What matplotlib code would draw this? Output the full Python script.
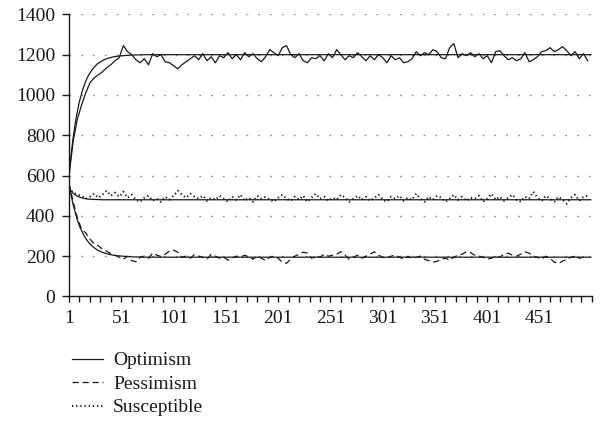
import numpy as np
import matplotlib.pyplot as plt

plt.rcParams['font.family'] = ['Liberation Serif', 'DejaVu Serif']

# --- simulated series, read every 4 steps (x = 1, 5, 9, ..., 497) ---
optimism = [600, 770, 880, 950, 1010, 1060, 1085, 1100, 1115, 1135, 1150, 1170, 1185,
            1245, 1215, 1200, 1175, 1160, 1180, 1150, 1205, 1190, 1200, 1165, 1160,
            1145, 1130, 1150, 1165, 1180, 1195, 1175, 1205, 1170, 1190, 1160, 1195,
            1185, 1210, 1180, 1200, 1175, 1210, 1190, 1205, 1180, 1165, 1190, 1225,
            1210, 1195, 1235, 1245, 1200, 1185, 1205, 1170, 1160, 1185, 1180, 1195,
            1170, 1205, 1185, 1225, 1200, 1175, 1195, 1185, 1210, 1190, 1170, 1195,
            1175, 1200, 1185, 1160, 1195, 1175, 1185, 1160, 1165, 1180, 1215, 1195,
            1210, 1200, 1225, 1215, 1185, 1180, 1235, 1255, 1185, 1205, 1195, 1210,
            1190, 1205, 1180, 1195, 1160, 1215, 1220, 1195, 1175, 1185, 1170, 1180,
            1210, 1165, 1175, 1190, 1215, 1220, 1235, 1215, 1225, 1240, 1220, 1195,
            1215, 1180, 1205, 1170]
pessimism = [560, 470, 390, 335, 315, 285, 262, 252, 235, 225, 212, 205, 195,
             185, 200, 178, 172, 195, 200, 190, 215, 205, 198, 210, 225,
             230, 220, 195, 200, 190, 208, 200, 195, 185, 210, 200, 190,
             195, 180, 192, 200, 195, 205, 195, 185, 200, 190, 178, 195,
             200, 190, 170, 165, 185, 200, 210, 220, 215, 190, 200, 195,
             210, 200, 205, 210, 222, 205, 185, 195, 205, 190, 200, 210,
             222, 205, 195, 190, 200, 205, 195, 185, 200, 190, 195, 200,
             185, 178, 170, 175, 185, 190, 180, 195, 205, 210, 222, 218,
             205, 200, 195, 185, 190, 200, 195, 210, 215, 205, 200, 210,
             222, 215, 200, 195, 185, 200, 190, 170, 165, 175, 185, 195,
             200, 190, 195, 200]
susceptible = [540, 515, 505, 500, 485, 495, 510, 490, 505, 525, 500, 515, 495,
               520, 490, 505, 480, 470, 490, 500, 475, 485, 470, 495, 480,
               500, 525, 505, 490, 510, 495, 485, 500, 475, 490, 480, 500,
               485, 470, 495, 480, 505, 475, 490, 470, 500, 485, 495, 480,
               470, 490, 505, 485, 475, 495, 480, 500, 470, 490, 510, 485,
               495, 475, 490, 480, 505, 490, 470, 485, 500, 480, 495, 475,
               490, 505, 480, 470, 495, 485, 500, 475, 490, 480, 510, 485,
               470, 495, 480, 500, 490, 470, 485, 505, 480, 495, 475, 490,
               485, 500, 470, 485, 510, 480, 495, 475, 490, 505, 480, 470,
               495, 485, 520, 490, 475, 500, 485, 470, 495, 480, 460, 490,
               505, 475, 495, 500]

# --- model (smooth) curves, read at selected steps ---
model_steps = [1, 3, 5, 7, 9, 11, 14, 17, 20, 24, 28, 33, 38, 44, 50, 60, 75, 100, 500]
optimism_model = [600, 704, 790, 860, 919, 968, 1025, 1069, 1101, 1132, 1154, 1171,
                  1182, 1190, 1194, 1198, 1200, 1200, 1200]
pessimism_model = [560, 504, 455, 416, 379, 350, 316, 288, 267, 246, 231, 219,
                   211, 204, 201, 197, 195, 195, 195]
susceptible_model = [540, 524, 513, 504, 498, 493, 488, 485, 483, 482, 481, 480,
                     480, 480, 480, 480, 480, 480, 480]

x_labels = ['1', '51', '101', '151', '201', '251', '301', '351', '401', '451']

ink = '#1a1a1a'

fig = plt.figure(figsize=(6.01, 4.36), dpi=100)
ax = fig.add_axes([0.1148, 0.320, 0.870, 0.647])

# dotted horizontal grid
for yv in range(200, 1401, 200):
    ax.axhline(yv, color='#8a8a8a', lw=1.0, linestyle=(0, (1.2, 7.3)), zorder=0)

def steps_for(series):
    return np.arange(len(series)) * 4 + 1

ax.plot(steps_for(optimism), optimism, color=ink, lw=0.9, label='Optimism')
ax.plot(steps_for(pessimism), pessimism, color=ink, lw=0.9,
        linestyle=(0, (5, 3)), label='Pessimism')
ax.plot(steps_for(susceptible), susceptible, color=ink, lw=1.5,
        linestyle=(0, (0.6, 1.4)), label='Susceptible')

for model in (optimism_model, pessimism_model, susceptible_model):
    ax.plot(model_steps, model, color=ink, lw=0.9)

ax.set_xlim(1, 501)
ax.set_ylim(0, 1400)

ax.set_yticks(range(0, 1401, 200))
tick_pos = list(range(1, 502, 10))
ax.set_xticks(tick_pos)
ax.set_xticklabels([x_labels[i // 5] if i % 5 == 0 and i // 5 < len(x_labels) else ''
                    for i in range(len(tick_pos))])

for side in ('top', 'right'):
    ax.spines[side].set_visible(False)
for side in ('left', 'bottom'):
    ax.spines[side].set_color(ink)
    ax.spines[side].set_linewidth(1.0)

ax.tick_params(axis='y', direction='out', length=5, width=1.0, pad=5,
               labelsize=14, colors=ink)
ax.tick_params(axis='x', direction='out', length=4, width=1.0, pad=6,
               labelsize=14, colors=ink)

fig.legend(loc='center left', bbox_to_anchor=(0.12, 0.119), frameon=False,
           fontsize=14, handlelength=1.6, handletextpad=0.5, labelspacing=0.3,
           borderpad=0, borderaxespad=0, labelcolor=ink)

fig.savefig('out.png', dpi=100)
